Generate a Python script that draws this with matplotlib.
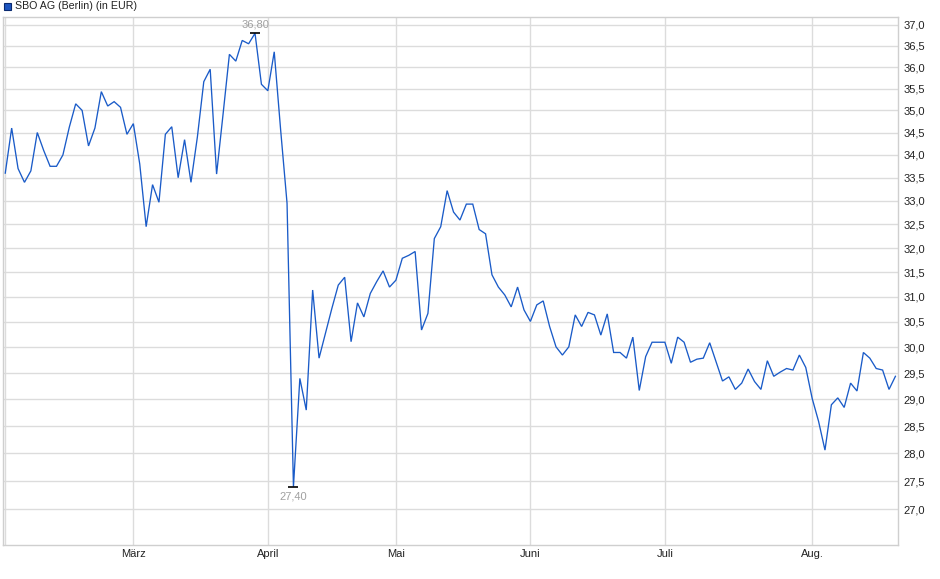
import matplotlib
matplotlib.use("Agg")
import matplotlib.pyplot as plt
from matplotlib.patches import Rectangle
from matplotlib.ticker import FixedLocator, FixedFormatter, NullLocator
import numpy as np
import pandas as pd

# ---------------- data ----------------
title = "SBO AG (Berlin) (in EUR)"
start_date = "2025-02-03"
end_date = "2025-08-20"
holidays = ["2025-04-18", "2025-04-21", "2025-05-01"]

prices = [
    33.6, 34.6, 33.7, 33.4, 33.65, 34.5, 34.1, 33.75, 33.75, 34.0,
    34.62, 35.15, 35.0, 34.2, 34.6, 35.43, 35.1, 35.2, 35.07, 34.46,
    34.7, 33.8, 32.45, 33.35, 32.97, 34.46, 34.63, 33.5, 34.34, 33.4,
    34.4, 35.66, 35.95, 33.58, 34.9, 36.3, 36.14, 36.63, 36.55, 36.8,
    35.6, 35.45, 36.36, 34.56, 32.95, 27.4, 29.4, 28.8, 31.14, 29.79,
    30.28, 30.77, 31.24, 31.4, 30.11, 30.88, 30.6, 31.07, 31.31, 31.53,
    31.2, 31.34, 31.79, 31.85, 31.93, 30.34, 30.67, 32.2, 32.45, 33.22,
    32.76, 32.59, 32.93, 32.93, 32.39, 32.3, 31.45, 31.2, 31.04, 30.8,
    31.2, 30.74, 30.51, 30.84, 30.92, 30.41, 30.01, 29.85, 30.01, 30.64,
    30.41, 30.69, 30.64, 30.24, 30.66, 29.9, 29.9, 29.79, 30.2, 29.17,
    29.82, 30.1, 30.1, 30.1, 29.69, 30.2, 30.1, 29.71, 29.77, 29.79,
    30.09, 29.72, 29.35, 29.43, 29.19, 29.31, 29.58, 29.34, 29.19, 29.74,
    29.44, 29.52, 29.59, 29.56, 29.85, 29.61, 29.02, 28.59, 28.06, 28.9,
    29.03, 28.85, 29.31, 29.16, 29.9, 29.79, 29.59, 29.56, 29.19, 29.44,
]

month_labels = ["", "März", "April", "Mai", "Juni", "Juli", "Aug."]
y_ticks = [27.0, 27.5, 28.0, 28.5, 29.0, 29.5, 30.0, 30.5, 31.0, 31.5,
           32.0, 32.5, 33.0, 33.5, 34.0, 34.5, 35.0, 35.5, 36.0, 36.5, 37.0]
y_limits = (26.38, 37.2)

# ---------------- styling ----------------
LINE_COLOR = "#1a5bc8"
GRID_COLOR = "#dcdcdc"
FRAME_COLOR = "#cfcfcf"
TEXT_COLOR = "#222222"
ANNOT_COLOR = "#a0a0a0"
FONT = ["Liberation Sans", "DejaVu Sans"]

plt.rcParams["font.family"] = FONT

W, H = 940, 579
fig = plt.figure(figsize=(W / 100, H / 100), dpi=100)
fig.patch.set_facecolor("white")

left_px, right_px, top_px, bottom_px = 2.7, 898.3, 16.7, 545.0
ax = fig.add_axes([left_px / W, 1 - bottom_px / H,
                   (right_px - left_px) / W, (bottom_px - top_px) / H])

# trading-day calendar
days = pd.bdate_range(start_date, end_date)
days = days[~days.isin(pd.to_datetime(holidays))]
x = np.arange(len(days))
y = np.array(prices)

ax.plot(x, y, color=LINE_COLOR, linewidth=0.95, solid_joinstyle="miter", zorder=3)

ax.set_yscale("log")
ax.set_ylim(*y_limits)
ax.set_xlim(-0.4, len(days) - 1 + 0.45)

# month ticks at first trading day of each month
month_starts = [i for i in range(len(days)) if i == 0 or days[i].month != days[i - 1].month]
ax.xaxis.set_major_locator(FixedLocator(month_starts))
ax.xaxis.set_major_formatter(FixedFormatter(month_labels[:len(month_starts)]))
ax.xaxis.set_minor_locator(NullLocator())

ax.yaxis.set_major_locator(FixedLocator(y_ticks))
ax.yaxis.set_major_formatter(FixedFormatter([f"{v:.1f}".replace(".", ",") for v in y_ticks]))
ax.yaxis.set_minor_locator(NullLocator())
ax.yaxis.tick_right()

ax.grid(True, color=GRID_COLOR, linewidth=1.0, zorder=0)
ax.set_axisbelow(True)
for s in ax.spines.values():
    s.set_color(FRAME_COLOR)
    s.set_linewidth(1.0)

ax.tick_params(axis="y", length=0, pad=4, labelsize=8, labelcolor=TEXT_COLOR)
ax.tick_params(axis="x", length=0, pad=3, labelsize=8, labelcolor=TEXT_COLOR)

# max / min annotations
imax = int(np.argmax(y))
imin = int(np.argmin(y))
for idx, dy in ((imax, 9), (imin, -10)):
    ax.plot([x[idx]], [y[idx]], marker="_", markersize=7, markeredgewidth=1.2,
            color="black", zorder=4)
    ax.annotate(f"{y[idx]:.2f}".replace(".", ","), (x[idx], y[idx]),
                xytext=(0, dy), textcoords="offset pixels",
                ha="center", va="center", fontsize=8, color=ANNOT_COLOR, zorder=5)

# legend square + title
fig.add_artist(Rectangle((3.5 / W, 1 - 9.8 / H), 7 / W, 7 / H, transform=fig.transFigure,
                         facecolor="#1d55c0", edgecolor="#0a2a70", linewidth=0.8))
fig.text(15 / W, 1 - 6.3 / H, title, ha="left", va="center", fontsize=7.7, color=TEXT_COLOR)

fig.savefig("out.png", dpi=100, facecolor="white")
